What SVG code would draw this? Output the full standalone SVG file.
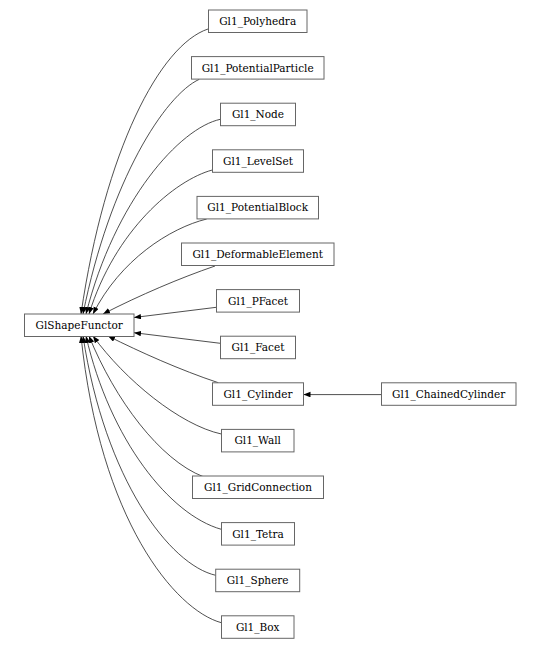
<svg xmlns="http://www.w3.org/2000/svg" width="541" height="650" viewBox="0 0 541 650">
<style>
.n rect{fill:#fff;stroke:#666;stroke-width:1}
.n text{font-family:'DejaVu Serif',serif;font-size:10.5px;fill:#000;text-anchor:middle}
.e path{fill:none;stroke:#222;stroke-width:0.8;marker-end:url(#ah)}
</style>
<defs>
<marker id="ah" markerUnits="userSpaceOnUse" markerWidth="8" markerHeight="6" refX="7" refY="2.75" orient="auto">
<path d="M0,0 L7,2.75 L0,5.5 z" fill="#000"/>
</marker>
</defs>
<rect width="541" height="650" fill="#fff"/>
<g id="edges" class="e">
<path d="M208,29 C160,45 105,150 81,314"/>
<path d="M199.3,79.3 C165,95 110,180 83,314"/>
<path d="M220.3,119.3 C180,128 115,200 86,314"/>
<path d="M212.3,170 C175,180 115,230 89,314"/>
<path d="M206.7,219 C170,228 120,260 93,314"/>
<path d="M215,266 C180,278 140,295 103,314"/>
<path d="M216.3,307.3 L134,317.5"/>
<path d="M220.3,343.3 L134,332.7"/>
<path d="M218.3,382.7 C180,370 140,352 108,336"/>
<path d="M221.3,434 C180,425 125,380 93,336"/>
<path d="M203.3,476.7 C160,460 115,400 89,336"/>
<path d="M221.3,529.3 C170,515 110,440 86,336"/>
<path d="M215.7,575.3 C170,565 105,480 83,336"/>
<path d="M221.3,622.7 C175,610 100,520 81,336"/>
<path d="M381.7,394.6 L303.5,394.6"/>
</g>
<g id="GlShapeFunctor" class="n"><rect x="24.5" y="314" width="109.5" height="22.5"/><text x="79.2" y="329">GlShapeFunctor</text></g>
<g id="Gl1_Polyhedra" class="n"><rect x="208.5" y="10" width="98.5" height="22.5"/><text x="257.7" y="25">Gl1_Polyhedra</text></g>
<g id="Gl1_PotentialParticle" class="n"><rect x="191.5" y="56.6" width="132.5" height="22.5"/><text x="257.7" y="71.6">Gl1_PotentialParticle</text></g>
<g id="Gl1_Node" class="n"><rect x="220.5" y="103.2" width="75" height="22.5"/><text x="258" y="118.2">Gl1_Node</text></g>
<g id="Gl1_LevelSet" class="n"><rect x="212.5" y="149.8" width="91" height="22.5"/><text x="258" y="164.8">Gl1_LevelSet</text></g>
<g id="Gl1_PotentialBlock" class="n"><rect x="197" y="196.4" width="121.5" height="22.5"/><text x="257.7" y="211.4">Gl1_PotentialBlock</text></g>
<g id="Gl1_DeformableElement" class="n"><rect x="181.5" y="243" width="152.5" height="22.5"/><text x="257.7" y="258">Gl1_DeformableElement</text></g>
<g id="Gl1_PFacet" class="n"><rect x="216.5" y="289.6" width="83" height="22.5"/><text x="258" y="304.6">Gl1_PFacet</text></g>
<g id="Gl1_Facet" class="n"><rect x="220.5" y="336.2" width="75" height="22.5"/><text x="258" y="351.2">Gl1_Facet</text></g>
<g id="Gl1_Cylinder" class="n"><rect x="212.5" y="382.8" width="91" height="22.5"/><text x="258" y="397.8">Gl1_Cylinder</text></g>
<g id="Gl1_ChainedCylinder" class="n"><rect x="381.5" y="382.8" width="134.5" height="22.5"/><text x="448.7" y="397.8">Gl1_ChainedCylinder</text></g>
<g id="Gl1_Wall" class="n"><rect x="221.5" y="429.4" width="72.5" height="22.5"/><text x="257.7" y="444.4">Gl1_Wall</text></g>
<g id="Gl1_GridConnection" class="n"><rect x="192.5" y="476" width="131" height="22.5"/><text x="258" y="491">Gl1_GridConnection</text></g>
<g id="Gl1_Tetra" class="n"><rect x="221.5" y="522.6" width="73" height="22.5"/><text x="258" y="537.6">Gl1_Tetra</text></g>
<g id="Gl1_Sphere" class="n"><rect x="215.7" y="569.2" width="84" height="22.5"/><text x="257.7" y="584.2">Gl1_Sphere</text></g>
<g id="Gl1_Box" class="n"><rect x="221.5" y="615.8" width="72.5" height="22.5"/><text x="257.7" y="630.8">Gl1_Box</text></g>
</svg>
